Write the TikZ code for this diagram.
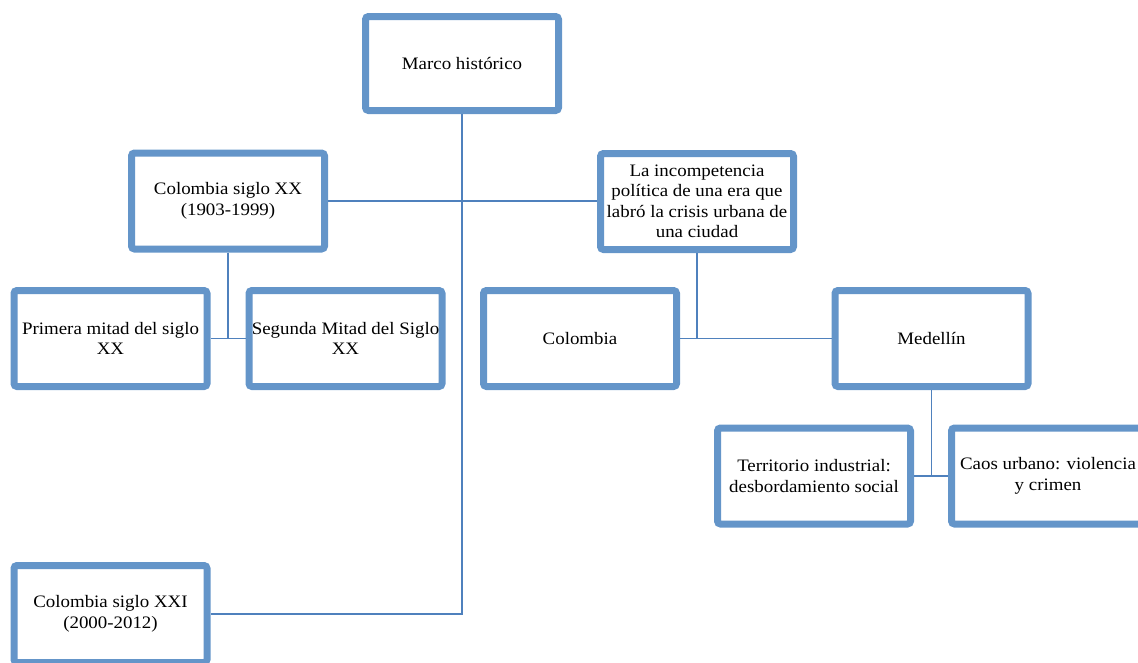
\documentclass[tikz,border=0pt]{standalone}
\usepackage{fontspec}
\setmainfont{Liberation Serif}[FakeStretch=1.08]
\definecolor{boxblue}{RGB}{100,149,201}
\definecolor{linkblue}{RGB}{79,129,189}
\begin{document}
\begin{tikzpicture}[x=1pt,y=-1pt,
  card/.style={draw=boxblue, line width=7pt, fill=white, rounded corners=3pt,
    minimum width=193pt, minimum height=96pt, inner sep=0pt, align=center,
    font=\fontsize{17.5}{20.5}\selectfont},
  link/.style={draw=linkblue, line width=1.6pt}]
\useasboundingbox (0,0) rectangle (1138,662);
\clip (0,0) rectangle (1138,662);

% boxes
\node[card, minimum height=94pt] (marco) at (462,63.5) {Marco histórico};
\node[card] (c20)   at (228,201)  {Colombia siglo XX\\(1903-1999)};
\node[card] (inc)   at (697,201.5) {La incompetencia\\política de una era que\\labró la crisis urbana de\\una ciudad};
\node[card] (prim)  at (110.5,338.5) {Primera mitad del siglo\\XX};
\node[card] (seg)   at (345.5,338.5) {Segunda Mitad del Siglo\\XX};
\node[card] (col)   at (580,338.5) {Colombia};
\node[card] (med)   at (931.5,338.5) {Medellín};
\node[card] (terr)  at (814,476) {Territorio industrial:\\desbordamiento social};
\node[card] (caos)  at (1048,476) {Caos urbano: violencia\\y crimen};
\node[card, minimum height=97pt] (c21) at (110.5,614) {Colombia siglo XXI\\(2000-2012)};

% connectors
\draw[link] (marco.south) |- (c21.east);
\draw[link] (c20.east) -- (c20.east -| inc.west);
\draw[link] (prim.east) -- (seg.west);
\draw[link] (c20.south) -- (c20.south |- prim.east);
\draw[link] (col.east) -- (med.west);
\draw[link] (inc.south) -- (inc.south |- col.east);
\draw[link] (terr.east) -- (caos.west);
\draw[link] (med.south) -- (med.south |- terr.east);
\end{tikzpicture}
\end{document}
